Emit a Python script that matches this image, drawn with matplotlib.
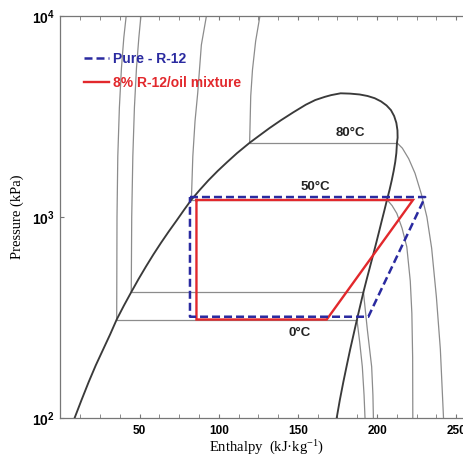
import matplotlib
matplotlib.use("Agg")
import matplotlib.pyplot as plt
from matplotlib.lines import Line2D
from matplotlib.ticker import FixedLocator, MultipleLocator, NullLocator

plt.rcParams["font.family"] = ["Liberation Sans", "DejaVu Sans"]
plt.rcParams["mathtext.fontset"] = "custom"
plt.rcParams["mathtext.rm"] = "Liberation Serif"
plt.rcParams["mathtext.it"] = "Liberation Serif:italic"
plt.rcParams["mathtext.bf"] = "Liberation Sans:bold"

# Saturation dome of R-12: enthalpy (kJ/kg) and pressure (kPa)
liq_h = [8.9, 13.3, 17.8, 22.3, 26.9, 31.4, 35.5, 40.1, 44.7, 49.3, 54.0,
         58.7, 63.5, 68.4, 73.3, 78.0, 82.7, 88.0, 93.5, 99.3, 105.4, 111.6,
         119.5, 125.3, 132.0, 139.3, 147.0, 155.0, 161.0, 167.0, 171.0, 177.0]
liq_p = [100, 123, 151, 183, 219, 261, 309, 363, 423, 491, 567,
         651, 744, 847, 959, 1083, 1219, 1364, 1523, 1694, 1879, 2080,
         2340, 2530, 2767, 3030, 3314, 3620, 3820, 3960, 4040, 4125]
vap_h = [177.0, 183.0, 189.0, 194.0, 198.5, 202.5, 206.0, 208.8, 210.8,
         212.2, 212.9, 213.0, 212.6, 212.2, 211.5, 210.5, 209.3, 207.9,
         206.3, 204.7, 203.0, 201.3, 199.5, 197.6, 195.6, 193.5, 191.4,
         189.4, 187.3, 185.2, 183.0, 180.9, 178.7, 176.5, 174.5]
vap_p = [4125, 4110, 4070, 4000, 3900, 3760, 3590, 3400, 3180,
         2940, 2700, 2480, 2340, 2080, 1879, 1694, 1523, 1364,
         1219, 1083, 959, 847, 744, 651, 567, 491, 423,
         363, 309, 261, 219, 183, 151, 123, 100]

# Isotherms: compressed-liquid branches
iso_liq = {
    "0": ([35.5, 35.7, 36.2, 37.2, 38.5, 40.0, 41.5], [309, 1000, 2000, 3500, 5500, 7800, 10000]),
    "10": ([44.7, 45.0, 45.7, 46.7, 48.0, 49.5, 50.8], [423, 1000, 2000, 3500, 5500, 7800, 10000]),
    "50": ([82.7, 83.6, 85.0, 86.7, 89.0, 92.2], [1219, 2000, 3000, 4140, 7180, 10000]),
    "80": ([119.5, 120.2, 121.3, 123.3, 126.0], [2340, 4000, 5400, 7500, 10000]),
}
# Isotherms: two-phase (constant pressure) segments
iso_sat = {
    "0": ([35.5, 187.3], [309, 309]),
    "10": ([44.7, 191.4], [423, 423]),
    "50": ([82.7, 206.3], [1219, 1219]),
    "80": ([119.5, 212.6], [2340, 2340]),
}
# Isotherms: superheated-vapour branches
iso_vap = {
    "0": ([187.3, 189.0, 190.7, 191.8, 192.4], [309, 240, 180, 130, 100]),
    "10": ([191.4, 193.9, 196.6, 197.4, 197.7], [423, 274, 180, 130, 100]),
    "50": ([206.3, 209.5, 212.5, 215.8, 218.8, 221.0, 222.0, 222.5, 222.6],
           [1219, 1140, 1042, 880, 711, 480, 332, 200, 100]),
    "80": ([212.6, 216.0, 220.0, 224.0, 228.0, 231.5, 234.5, 237.5, 240.0, 242.0],
           [2340, 2200, 1950, 1650, 1300, 1000, 700, 400, 220, 100]),
}

# Refrigeration cycles
pure_h = [81.8, 230.4, 194.5, 81.8, 81.8]
pure_p = [1257, 1257, 319, 319, 1257]
mix_h = [85.9, 222.7, 168.2, 85.9, 85.9]
mix_p = [1215, 1215, 309, 309, 1215]

temp_labels = ["80°C", "50°C", "0°C"]
temp_label_h = [183.0, 160.8, 151.3]
temp_label_p = [2618, 1415, 265]

x_ticks = [50, 100, 150, 200, 250]
y_ticks = [100, 1000, 10000]
y_tick_labels = [r"$\mathbf{10^{2}}$", r"$\mathbf{10^{3}}$", r"$\mathbf{10^{4}}$"]

BLUE = "#2a2aa0"
RED = "#e2282c"
DOME = "#3a3a3a"
GRAY = "#8c8c8c"

fig = plt.figure(figsize=(4.64, 4.59), dpi=100)
ax = fig.add_axes([60.5 / 464, 41 / 459, (472 - 60.5) / 464, 402 / 459])

ax.set_yscale("log")
ax.set_xlim(0, 260)
ax.set_ylim(100, 10000)

for key in iso_liq:
    for dset in (iso_liq, iso_sat, iso_vap):
        h, p = dset[key]
        ax.plot(h, p, color=GRAY, lw=0.9, zorder=2)

ax.plot(liq_h + vap_h[1:], liq_p + vap_p[1:], color=DOME, lw=1.35, zorder=3,
        solid_joinstyle="round")

ax.plot(mix_h, mix_p, color=RED, lw=1.7, zorder=4, solid_joinstyle="miter")
ax.plot(pure_h, pure_p, color=BLUE, lw=1.8, ls=(0, (3.2, 1.6)), zorder=5)

for t, h, p in zip(temp_labels, temp_label_h, temp_label_p):
    ax.text(h, p, t, ha="center", va="center", fontsize=9.5,
            fontweight="bold", color="#222222", zorder=6)

handles = [Line2D([], [], color=BLUE, lw=1.8, ls=(0, (3.2, 1.6))),
           Line2D([], [], color=RED, lw=1.7)]
leg = ax.legend(handles, ["Pure - R-12", "8% R-12/oil mixture"],
                loc="upper left", bbox_to_anchor=(84 / 464, 1 - 52 / 459),
                bbox_transform=fig.transFigure, frameon=False,
                prop={"weight": "bold", "size": 10}, handlelength=1.8,
                handletextpad=0.3, labelspacing=0.7, borderpad=0,
                borderaxespad=0, labelcolor="linecolor")

ax.xaxis.set_major_locator(FixedLocator(x_ticks))
ax.xaxis.set_minor_locator(MultipleLocator(12.5))
ax.yaxis.set_major_locator(FixedLocator(y_ticks))
ax.yaxis.set_minor_locator(NullLocator())
ax.set_yticklabels(y_tick_labels)
ax.tick_params(axis="x", which="both", direction="in", top=True, length=3,
               color="#777777", labelsize=8.5, pad=5)
ax.tick_params(axis="y", which="both", direction="in", length=3,
               color="#777777", labelsize=10, pad=4)
for lab in ax.get_xticklabels():
    lab.set_fontweight("bold")

for s in ax.spines.values():
    s.set_color("#777777")
    s.set_linewidth(0.9)

ax.set_xlabel("Enthalpy  (kJ·kg$^{-1}$)", family="Liberation Serif",
              fontsize=10.5, labelpad=1)
ax.set_ylabel("Pressure (kPa)", family="Liberation Serif", fontsize=10.5,
              labelpad=6)

fig.savefig("out.png", dpi=100)
